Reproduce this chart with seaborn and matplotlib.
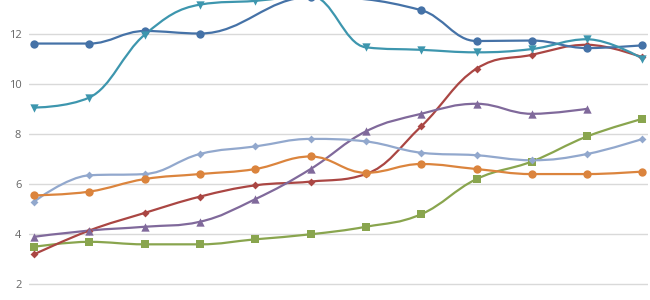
import numpy as np
import pandas as pd
import seaborn as sns
import matplotlib
matplotlib.use("Agg")
import matplotlib.pyplot as plt
from matplotlib.path import Path
from matplotlib.patches import PathPatch

# ---- data ----
categories = list(range(12))
s_blue = [11.6, 11.6, 12.1, 12.0, None, 13.45, None, 12.93, 11.7, 11.72, 11.42, 11.53]
s_teal = [9.05, 9.45, 11.95, 13.15, 13.3, 13.5, 11.45, 11.35, 11.25, 11.38, 11.77, 11.0]
s_red = [3.2, 4.15, 4.85, 5.5, 5.95, 6.1, 6.4, 8.3, 10.6, 11.15, 11.55, 11.05]
s_orange = [5.55, 5.7, 6.2, 6.4, 6.6, 7.1, 6.45, 6.8, 6.6, 6.4, 6.4, 6.5]
s_green = [3.5, 3.7, 3.6, 3.6, 3.8, 4.0, 4.3, 4.8, 6.2, 6.9, 7.9, 8.6]
s_purple = [3.9, 4.15, 4.3, 4.5, 5.4, 6.6, 8.1, 8.8, 9.2, 8.8, 9.0, None]
s_lightblue = [5.3, 6.35, 6.4, 7.2, 7.5, 7.8, 7.7, 7.25, 7.15, 6.95, 7.2, 7.8]
y_ticks = [2, 4, 6, 8, 10, 12]

series = [
    ("A", s_green, "#89A54E", "s", 40),
    ("B", s_red, "#AA4643", "D", 16),
    ("C", s_purple, "#80699B", "^", 36),
    ("D", s_lightblue, "#92A8CD", "D", 16),
    ("E", s_orange, "#DB843D", "o", 36),
    ("F", s_blue, "#4572A7", "o", 36),
    ("G", s_teal, "#3D96AE", "v", 36),
]


def spline_path(xs, ys, smoothing=1.5):
    """Highcharts-style spline as cubic Bezier segments (nulls connected)."""
    pts = [(x, y) for x, y in zip(xs, ys) if y is not None]
    n = len(pts)
    verts = [pts[0]]
    codes = [Path.MOVETO]
    right_prev = pts[0]
    denom = smoothing + 1
    for i in range(1, n):
        px, py = pts[i]
        if i < n - 1:
            lx, ly = pts[i - 1]
            nx, ny = pts[i + 1]
            lcx = (smoothing * px + lx) / denom
            lcy = (smoothing * py + ly) / denom
            rcx = (smoothing * px + nx) / denom
            rcy = (smoothing * py + ny) / denom
            if rcx != lcx:
                corr = (rcy - lcy) * (rcx - px) / (rcx - lcx) + py - rcy
                lcy += corr
                rcy += corr
            if lcy > ly and lcy > py:
                lcy = max(ly, py)
                rcy = 2 * py - lcy
            elif lcy < ly and lcy < py:
                lcy = min(ly, py)
                rcy = 2 * py - lcy
            if rcy > ny and rcy > py:
                rcy = max(py, ny)
                lcy = 2 * py - rcy
            elif rcy < ny and rcy < py:
                rcy = min(py, ny)
                lcy = 2 * py - rcy
            left = (lcx, lcy)
            right = (rcx, rcy)
        else:
            left = (px, py)
            right = (px, py)
        verts += [right_prev, left, (px, py)]
        codes += [Path.CURVE4] * 3
        right_prev = right
    return Path(verts, codes)


sns.set_theme(style="white")
plt.rcParams["font.family"] = ["Open Sans", "DejaVu Sans"]

fig = plt.figure(figsize=(6.5, 3.0), dpi=100)
ax = fig.add_axes([29 / 650, 0, 619 / 650, 1])

for name, vals, color, marker, size in series:
    path = spline_path(categories, vals)
    ax.add_patch(PathPatch(path, fill=False, edgecolor=color, lw=1.6,
                           capstyle="round", joinstyle="round", zorder=3))
    df = pd.DataFrame({"x": categories, "y": [np.nan if v is None else v for v in vals]}).dropna()
    sns.scatterplot(data=df, x="x", y="y", ax=ax, color=color, marker=marker,
                    s=size, linewidth=0, zorder=4, legend=False)

ax.set_xlim(-0.09, 11.1)
ax.set_ylim(1.382, 13.335)
ax.set_yticks(y_ticks)
ax.set_yticklabels([str(t) for t in y_ticks])
ax.set_xticks([])
ax.set_xlabel("")
ax.set_ylabel("")
ax.grid(axis="y", color="#d9d9d9", lw=1.0)
ax.set_axisbelow(True)
for sp in ax.spines.values():
    sp.set_visible(False)
ax.tick_params(axis="y", length=0, pad=5.5, labelsize=8, labelcolor="#666666")
ax.set_facecolor("white")

fig.savefig("out.png", dpi=100, facecolor="white")
